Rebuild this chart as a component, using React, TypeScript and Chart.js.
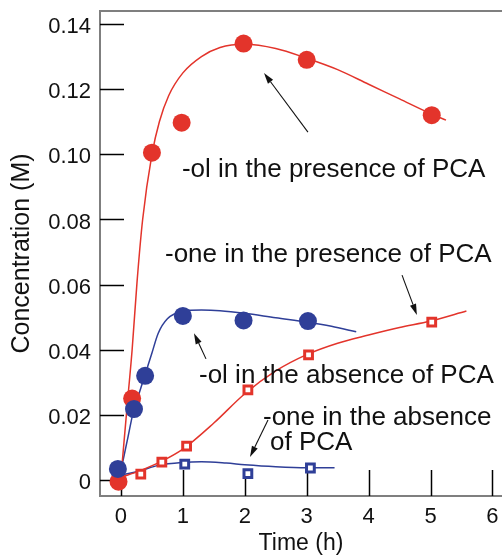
import React, { useEffect, useRef } from 'react';
import { Chart, registerables } from 'chart.js';

Chart.register(...registerables);

const RED = '#e3342b';
const BLUE = '#2f3f98';
const AXIS_GRAY = '#7f7f7f';
const FONT = '"Liberation Sans", Arial, Helvetica, sans-serif';

// Axis ticks
const xTickValues = [0, 1, 2, 3, 4, 5, 6];
const xTickLabels = ['0', '1', '2', '3', '4', '5', '6'];
const yTickValues = [0, 0.02, 0.04, 0.06, 0.08, 0.1, 0.12, 0.14];
const yTickLabels = ['0', '0.02', '0.04', '0.06', '0.08', '0.10', '0.12', '0.14'];

// Measured points: -ol in the presence of PCA (red circles)
const olPresenceT = [-0.04, 0.18, 0.5, 0.98, 1.98, 3.0, 5.02];
const olPresenceC = [-0.0005, 0.025, 0.1005, 0.1097, 0.134, 0.129, 0.112];

// Measured points: -ol in the absence of PCA (blue circles)
const olAbsenceT = [-0.05, 0.21, 0.39, 1.0, 1.98, 3.02];
const olAbsenceC = [0.0034, 0.0218, 0.032, 0.0504, 0.049, 0.0488];

// Measured points: -one in the presence of PCA (red squares)
const onePresenceT = [0.32, 0.66, 1.06, 2.05, 3.03, 5.02];
const onePresenceC = [0.0018, 0.0055, 0.0104, 0.0277, 0.0384, 0.0485];

// Measured points: -one in the absence of PCA (blue squares)
const oneAbsenceT = [1.03, 2.05, 3.06];
const oneAbsenceC = [0.0049, 0.002, 0.0037];

// Fitted curves
const olPresenceFitT = [0, 0.11, 0.18, 0.26, 0.35, 0.5, 0.62, 0.77, 1.0, 1.3, 1.6, 2.0, 2.5, 3.0, 3.5, 4.0, 4.5, 5.0, 5.25];
const olPresenceFitC = [0.001, 0.025, 0.04, 0.061, 0.08, 0.1, 0.11, 0.118, 0.125, 0.13, 0.1328, 0.1338, 0.1325, 0.1295, 0.126, 0.1215, 0.117, 0.1125, 0.1105];

const olAbsenceFitT = [0, 0.1, 0.2, 0.3, 0.4, 0.5, 0.6, 0.75, 1.0, 1.3, 1.6, 2.0, 2.5, 3.0, 3.4, 3.8];
const olAbsenceFitC = [0.003, 0.012, 0.021, 0.027, 0.033, 0.039, 0.045, 0.0495, 0.0518, 0.0522, 0.052, 0.0512, 0.0498, 0.0485, 0.0472, 0.0455];

const onePresenceFitT = [0, 0.3, 0.66, 1.0, 1.5, 2.0, 2.5, 3.0, 3.5, 4.0, 4.5, 5.0, 5.58];
const onePresenceFitC = [0.0008, 0.0028, 0.0058, 0.0095, 0.0175, 0.0265, 0.0335, 0.0385, 0.042, 0.0445, 0.0468, 0.0488, 0.0519];

const oneAbsenceFitT = [0, 0.3, 0.6, 1.0, 1.3, 1.7, 2.0, 2.5, 3.0, 3.45];
const oneAbsenceFitC = [0.0015, 0.0028, 0.0045, 0.0054, 0.0056, 0.0052, 0.0047, 0.0041, 0.0038, 0.0038];

// Annotations (data coordinates: left/baseline of text)
const labelTexts = [
  '-ol in the presence of PCA',
  '-one in the presence of PCA',
  '-ol in the absence of PCA',
  '-one in the absence',
  'of PCA',
];
const labelT = [0.985, 0.711, 1.26, 2.294, 2.407];
const labelC = [0.093, 0.0669, 0.0298, 0.0169, 0.0092];

// Arrows (from -> tip, data coordinates)
const arrowFromT = [3.02, 4.54, 1.373, 2.375];
const arrowFromC = [0.1068, 0.0629, 0.0372, 0.0184];
const arrowToT = [2.31, 4.78, 1.179, 2.084];
const arrowToC = [0.125, 0.0507, 0.0451, 0.0071];

const toXY = (xs: number[], ys: number[]) => xs.map((x, i) => ({ x, y: ys[i] }));

const decorPlugin = {
  id: 'decor',
  beforeDatasetsDraw(chart: any) {
    const { ctx, chartArea, scales } = chart;
    ctx.save();
    ctx.strokeStyle = AXIS_GRAY;
    ctx.lineWidth = 2;
    ctx.beginPath();
    ctx.moveTo(chartArea.left - 1, chartArea.top);
    ctx.lineTo(chartArea.right, chartArea.top);
    ctx.stroke();

    ctx.strokeStyle = '#000';
    ctx.lineWidth = 1.5;
    yTickValues.forEach((v) => {
      const py = Math.round(scales.y.getPixelForValue(v)) + 0.5;
      ctx.beginPath();
      ctx.moveTo(chartArea.left, py);
      ctx.lineTo(chartArea.left + 24, py);
      ctx.stroke();
    });
    xTickValues.forEach((v) => {
      const px = Math.round(scales.x.getPixelForValue(v)) + 0.5;
      ctx.beginPath();
      ctx.moveTo(px, chartArea.bottom);
      ctx.lineTo(px, chartArea.bottom - 26);
      ctx.stroke();
    });
    ctx.restore();
  },
  afterDatasetsDraw(chart: any) {
    const { ctx, scales } = chart;
    ctx.save();
    ctx.fillStyle = '#111';
    ctx.font = `26px ${FONT}`;
    ctx.textAlign = 'left';
    ctx.textBaseline = 'alphabetic';
    labelTexts.forEach((t, i) => {
      ctx.fillText(t, scales.x.getPixelForValue(labelT[i]), scales.y.getPixelForValue(labelC[i]));
    });
    ctx.strokeStyle = '#111';
    ctx.lineWidth = 1.1;
    arrowFromT.forEach((_, i) => {
      const x1 = scales.x.getPixelForValue(arrowFromT[i]);
      const y1 = scales.y.getPixelForValue(arrowFromC[i]);
      const x2 = scales.x.getPixelForValue(arrowToT[i]);
      const y2 = scales.y.getPixelForValue(arrowToC[i]);
      const ang = Math.atan2(y2 - y1, x2 - x1);
      const len = 11;
      const half = 3.2;
      const bx = x2 - len * Math.cos(ang);
      const by = y2 - len * Math.sin(ang);
      ctx.beginPath();
      ctx.moveTo(x1, y1);
      ctx.lineTo(bx, by);
      ctx.stroke();
      ctx.beginPath();
      ctx.moveTo(x2, y2);
      ctx.lineTo(bx + half * Math.sin(ang), by - half * Math.cos(ang));
      ctx.lineTo(bx - half * Math.sin(ang), by + half * Math.cos(ang));
      ctx.closePath();
      ctx.fillStyle = '#111';
      ctx.fill();
    });
    ctx.restore();
  },
};

export default function App() {
  const ref = useRef<HTMLCanvasElement | null>(null);
  useEffect(() => {
    if (!ref.current) return;
    const lineDs = (data: any, color: string) => ({
      data,
      showLine: true,
      borderColor: color,
      borderWidth: 1.5,
      pointRadius: 0,
      pointHoverRadius: 0,
      tension: 0.4,
      cubicInterpolationMode: 'monotone',
      fill: false,
      order: 10,
    });
    const chart = new Chart(ref.current, {
      type: 'scatter',
      data: {
        datasets: [
          lineDs(toXY(olPresenceFitT, olPresenceFitC), RED),
          lineDs(toXY(olAbsenceFitT, olAbsenceFitC), BLUE),
          lineDs(toXY(onePresenceFitT, onePresenceFitC), RED),
          lineDs(toXY(oneAbsenceFitT, oneAbsenceFitC), BLUE),
          {
            data: toXY(onePresenceT, onePresenceC),
            pointStyle: 'rect',
            pointRadius: 5.5,
            pointBorderWidth: 3,
            pointBackgroundColor: '#fff',
            pointBorderColor: RED,
            showLine: false,
            order: 5,
          },
          {
            data: toXY(oneAbsenceT, oneAbsenceC),
            pointStyle: 'rect',
            pointRadius: 5.5,
            pointBorderWidth: 3,
            pointBackgroundColor: '#fff',
            pointBorderColor: BLUE,
            showLine: false,
            order: 5,
          },
          {
            data: toXY(olPresenceT, olPresenceC),
            pointStyle: 'circle',
            pointRadius: 9,
            pointBorderWidth: 0,
            pointBackgroundColor: RED,
            pointBorderColor: RED,
            showLine: false,
            order: 2,
          },
          {
            data: toXY(olAbsenceT, olAbsenceC),
            pointStyle: 'circle',
            pointRadius: 9,
            pointBorderWidth: 0,
            pointBackgroundColor: BLUE,
            pointBorderColor: BLUE,
            showLine: false,
            order: 1,
          },
        ] as any,
      },
      options: {
        animation: false,
        responsive: false,
        layout: { autoPadding: false, padding: { top: 11, right: 0, left: 0, bottom: 0 } },
        plugins: { legend: { display: false }, tooltip: { enabled: false } },
        events: [],
        scales: {
          x: {
            type: 'linear',
            min: -0.339,
            max: 6.155,
            grid: { display: false, drawTicks: false },
            border: { display: true, color: AXIS_GRAY, width: 2 },
            afterBuildTicks: (s: any) => {
              s.ticks = xTickValues.map((v) => ({ value: v }));
            },
            afterFit: (s: any) => {
              s.height = 63;
              s.paddingLeft = 0;
              s.paddingRight = 0;
              s.paddingTop = 0;
              s.paddingBottom = 0;
            },
            ticks: {
              autoSkip: false,
              maxRotation: 0,
              padding: 8,
              color: '#111',
              font: { family: FONT, size: 22 },
              callback: (_v: any, i: number) => xTickLabels[i],
            },
            title: {
              display: true,
              text: 'Time (h)',
              color: '#111',
              font: { family: FONT, size: 23 },
              padding: { top: 0, bottom: 2 },
            },
          },
          y: {
            type: 'linear',
            min: -0.0049,
            max: 0.144,
            grid: { display: false, drawTicks: false },
            border: { display: true, color: AXIS_GRAY, width: 2 },
            afterBuildTicks: (s: any) => {
              s.ticks = yTickValues.map((v) => ({ value: v }));
            },
            afterFit: (s: any) => {
              s.width = 100;
              s.paddingLeft = 0;
              s.paddingRight = 0;
              s.paddingTop = 0;
              s.paddingBottom = 0;
            },
            ticks: {
              autoSkip: false,
              padding: 9,
              labelOffset: 3,
              color: '#111',
              font: { family: FONT, size: 22 },
              callback: (_v: any, i: number) => yTickLabels[i],
            },
            title: {
              display: true,
              text: 'Concentration (M)',
              color: '#111',
              font: { family: FONT, size: 25 },
              padding: { top: 7, bottom: 0 },
            },
          },
        },
      },
      plugins: [decorPlugin],
    } as any);
    return () => chart.destroy();
  }, []);
  return (
    <div style={{ position: 'fixed', left: 0, top: 0, width: 502, height: 559, background: '#fff' }}>
      <canvas ref={ref} width={502} height={559} style={{ display: 'block' }} />
    </div>
  );
}
